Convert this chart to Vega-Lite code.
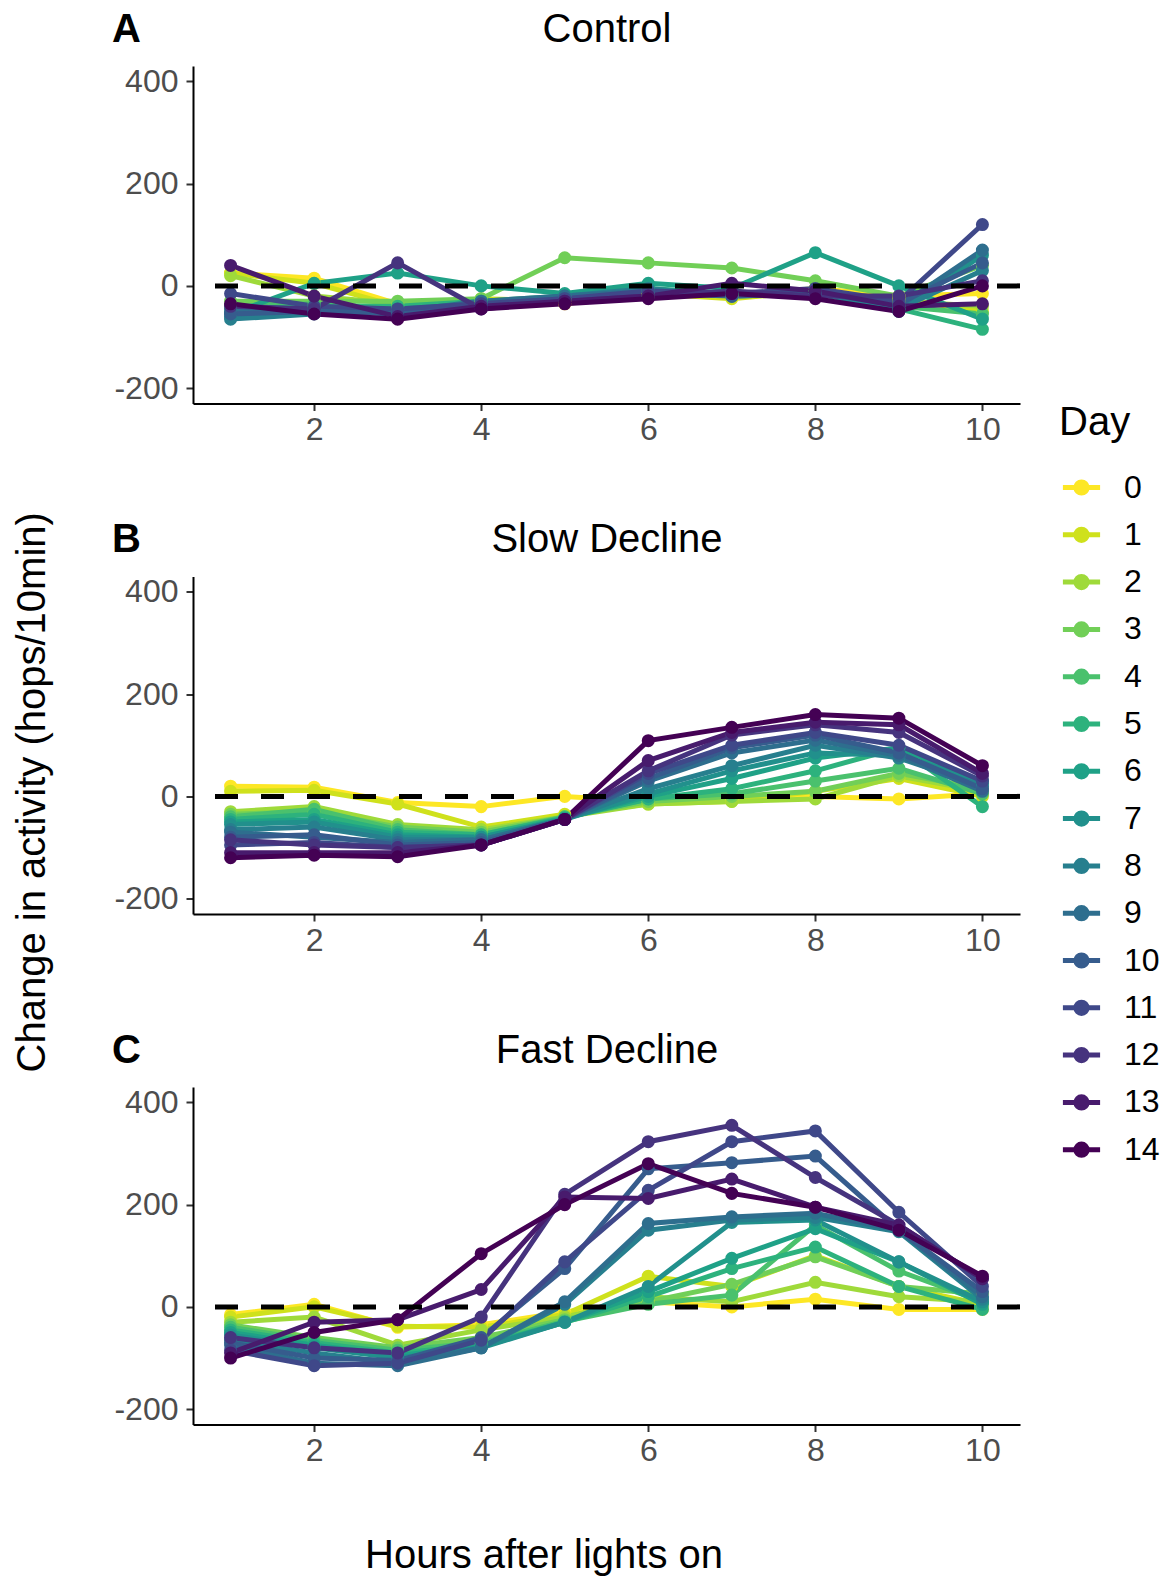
{
"$schema":"https://vega.github.io/schema/vega-lite/v6.json",
"padding":{"left":12,"top":9,"right":5,"bottom":5},
"config":{"view":{"stroke":null},"font":"Liberation Sans",
 "axis":{"grid":false,"domainColor":"black","domainWidth":2,"tickColor":"#333333","tickWidth":2,"tickSize":7,"labelColor":"#4D4D4D","labelFontSize":32,"labelFont":"Liberation Sans","titleFont":"Liberation Sans","titleFontSize":40,"titleColor":"black","titleFontWeight":"normal"},
 "title":{"font":"Liberation Sans","fontSize":40,"fontWeight":"normal","color":"black"}},
"datasets":{"act":[
{"p":"A","d":0,"h":1,"v":25},{"p":"A","d":0,"h":2,"v":15},{"p":"A","d":0,"h":3,"v":-35},{"p":"A","d":0,"h":4,"v":-30},{"p":"A","d":0,"h":5,"v":-35},{"p":"A","d":0,"h":6,"v":-15},{"p":"A","d":0,"h":7,"v":-20},{"p":"A","d":0,"h":8,"v":-5},{"p":"A","d":0,"h":9,"v":-20},{"p":"A","d":0,"h":10,"v":-15},
{"p":"A","d":1,"h":1,"v":25},{"p":"A","d":1,"h":2,"v":5},{"p":"A","d":1,"h":3,"v":-40},{"p":"A","d":1,"h":4,"v":-25},{"p":"A","d":1,"h":5,"v":-30},{"p":"A","d":1,"h":6,"v":-15},{"p":"A","d":1,"h":7,"v":-25},{"p":"A","d":1,"h":8,"v":-10},{"p":"A","d":1,"h":9,"v":-25},{"p":"A","d":1,"h":10,"v":-50},
{"p":"A","d":2,"h":1,"v":20},{"p":"A","d":2,"h":2,"v":-20},{"p":"A","d":2,"h":3,"v":-35},{"p":"A","d":2,"h":4,"v":-30},{"p":"A","d":2,"h":5,"v":-25},{"p":"A","d":2,"h":6,"v":-20},{"p":"A","d":2,"h":7,"v":-15},{"p":"A","d":2,"h":8,"v":-10},{"p":"A","d":2,"h":9,"v":-30},{"p":"A","d":2,"h":10,"v":-40},
{"p":"A","d":3,"h":1,"v":-30},{"p":"A","d":3,"h":2,"v":-30},{"p":"A","d":3,"h":3,"v":-30},{"p":"A","d":3,"h":4,"v":-25},{"p":"A","d":3,"h":5,"v":55},{"p":"A","d":3,"h":6,"v":45},{"p":"A","d":3,"h":7,"v":35},{"p":"A","d":3,"h":8,"v":10},{"p":"A","d":3,"h":9,"v":-20},{"p":"A","d":3,"h":10,"v":40},
{"p":"A","d":4,"h":1,"v":-40},{"p":"A","d":4,"h":2,"v":-35},{"p":"A","d":4,"h":3,"v":-45},{"p":"A","d":4,"h":4,"v":-30},{"p":"A","d":4,"h":5,"v":-25},{"p":"A","d":4,"h":6,"v":-10},{"p":"A","d":4,"h":7,"v":-20},{"p":"A","d":4,"h":8,"v":-15},{"p":"A","d":4,"h":9,"v":-40},{"p":"A","d":4,"h":10,"v":-55},
{"p":"A","d":5,"h":1,"v":-45},{"p":"A","d":5,"h":2,"v":-40},{"p":"A","d":5,"h":3,"v":-40},{"p":"A","d":5,"h":4,"v":-30},{"p":"A","d":5,"h":5,"v":-20},{"p":"A","d":5,"h":6,"v":-5},{"p":"A","d":5,"h":7,"v":-15},{"p":"A","d":5,"h":8,"v":-10},{"p":"A","d":5,"h":9,"v":-45},{"p":"A","d":5,"h":10,"v":-85},
{"p":"A","d":6,"h":1,"v":-55},{"p":"A","d":6,"h":2,"v":5},{"p":"A","d":6,"h":3,"v":25},{"p":"A","d":6,"h":4,"v":0},{"p":"A","d":6,"h":5,"v":-15},{"p":"A","d":6,"h":6,"v":5},{"p":"A","d":6,"h":7,"v":-5},{"p":"A","d":6,"h":8,"v":65},{"p":"A","d":6,"h":9,"v":0},{"p":"A","d":6,"h":10,"v":-65},
{"p":"A","d":7,"h":1,"v":-60},{"p":"A","d":7,"h":2,"v":-50},{"p":"A","d":7,"h":3,"v":-45},{"p":"A","d":7,"h":4,"v":-35},{"p":"A","d":7,"h":5,"v":-25},{"p":"A","d":7,"h":6,"v":-10},{"p":"A","d":7,"h":7,"v":-15},{"p":"A","d":7,"h":8,"v":-10},{"p":"A","d":7,"h":9,"v":-50},{"p":"A","d":7,"h":10,"v":60},
{"p":"A","d":8,"h":1,"v":-65},{"p":"A","d":8,"h":2,"v":-55},{"p":"A","d":8,"h":3,"v":-50},{"p":"A","d":8,"h":4,"v":-35},{"p":"A","d":8,"h":5,"v":-20},{"p":"A","d":8,"h":6,"v":-5},{"p":"A","d":8,"h":7,"v":-20},{"p":"A","d":8,"h":8,"v":-15},{"p":"A","d":8,"h":9,"v":-45},{"p":"A","d":8,"h":10,"v":30},
{"p":"A","d":9,"h":1,"v":-50},{"p":"A","d":9,"h":2,"v":-45},{"p":"A","d":9,"h":3,"v":-50},{"p":"A","d":9,"h":4,"v":-30},{"p":"A","d":9,"h":5,"v":-20},{"p":"A","d":9,"h":6,"v":-10},{"p":"A","d":9,"h":7,"v":-15},{"p":"A","d":9,"h":8,"v":-10},{"p":"A","d":9,"h":9,"v":-40},{"p":"A","d":9,"h":10,"v":70},
{"p":"A","d":10,"h":1,"v":-55},{"p":"A","d":10,"h":2,"v":-50},{"p":"A","d":10,"h":3,"v":-55},{"p":"A","d":10,"h":4,"v":-35},{"p":"A","d":10,"h":5,"v":-25},{"p":"A","d":10,"h":6,"v":-15},{"p":"A","d":10,"h":7,"v":-20},{"p":"A","d":10,"h":8,"v":-15},{"p":"A","d":10,"h":9,"v":-35},{"p":"A","d":10,"h":10,"v":45},
{"p":"A","d":11,"h":1,"v":-15},{"p":"A","d":11,"h":2,"v":-40},{"p":"A","d":11,"h":3,"v":-45},{"p":"A","d":11,"h":4,"v":-35},{"p":"A","d":11,"h":5,"v":-25},{"p":"A","d":11,"h":6,"v":-10},{"p":"A","d":11,"h":7,"v":-15},{"p":"A","d":11,"h":8,"v":-5},{"p":"A","d":11,"h":9,"v":-30},{"p":"A","d":11,"h":10,"v":120},
{"p":"A","d":12,"h":1,"v":-40},{"p":"A","d":12,"h":2,"v":-45},{"p":"A","d":12,"h":3,"v":45},{"p":"A","d":12,"h":4,"v":-45},{"p":"A","d":12,"h":5,"v":-30},{"p":"A","d":12,"h":6,"v":-20},{"p":"A","d":12,"h":7,"v":-10},{"p":"A","d":12,"h":8,"v":-20},{"p":"A","d":12,"h":9,"v":-20},{"p":"A","d":12,"h":10,"v":10},
{"p":"A","d":13,"h":1,"v":40},{"p":"A","d":13,"h":2,"v":-20},{"p":"A","d":13,"h":3,"v":-60},{"p":"A","d":13,"h":4,"v":-40},{"p":"A","d":13,"h":5,"v":-30},{"p":"A","d":13,"h":6,"v":-20},{"p":"A","d":13,"h":7,"v":5},{"p":"A","d":13,"h":8,"v":-10},{"p":"A","d":13,"h":9,"v":-40},{"p":"A","d":13,"h":10,"v":-35},
{"p":"A","d":14,"h":1,"v":-35},{"p":"A","d":14,"h":2,"v":-55},{"p":"A","d":14,"h":3,"v":-65},{"p":"A","d":14,"h":4,"v":-45},{"p":"A","d":14,"h":5,"v":-35},{"p":"A","d":14,"h":6,"v":-25},{"p":"A","d":14,"h":7,"v":-15},{"p":"A","d":14,"h":8,"v":-25},{"p":"A","d":14,"h":9,"v":-50},{"p":"A","d":14,"h":10,"v":0},
{"p":"B","d":0,"h":1,"v":20},{"p":"B","d":0,"h":2,"v":18},{"p":"B","d":0,"h":3,"v":-12},{"p":"B","d":0,"h":4,"v":-20},{"p":"B","d":0,"h":5,"v":0},{"p":"B","d":0,"h":6,"v":-10},{"p":"B","d":0,"h":7,"v":-5},{"p":"B","d":0,"h":8,"v":0},{"p":"B","d":0,"h":9,"v":-5},{"p":"B","d":0,"h":10,"v":5},
{"p":"B","d":1,"h":1,"v":10},{"p":"B","d":1,"h":2,"v":12},{"p":"B","d":1,"h":3,"v":-15},{"p":"B","d":1,"h":4,"v":-60},{"p":"B","d":1,"h":5,"v":-35},{"p":"B","d":1,"h":6,"v":-15},{"p":"B","d":1,"h":7,"v":-10},{"p":"B","d":1,"h":8,"v":10},{"p":"B","d":1,"h":9,"v":35},{"p":"B","d":1,"h":10,"v":0},
{"p":"B","d":2,"h":1,"v":-30},{"p":"B","d":2,"h":2,"v":-20},{"p":"B","d":2,"h":3,"v":-55},{"p":"B","d":2,"h":4,"v":-65},{"p":"B","d":2,"h":5,"v":-40},{"p":"B","d":2,"h":6,"v":-15},{"p":"B","d":2,"h":7,"v":-10},{"p":"B","d":2,"h":8,"v":-5},{"p":"B","d":2,"h":9,"v":40},{"p":"B","d":2,"h":10,"v":10},
{"p":"B","d":3,"h":1,"v":-35},{"p":"B","d":3,"h":2,"v":-30},{"p":"B","d":3,"h":3,"v":-60},{"p":"B","d":3,"h":4,"v":-70},{"p":"B","d":3,"h":5,"v":-40},{"p":"B","d":3,"h":6,"v":-10},{"p":"B","d":3,"h":7,"v":0},{"p":"B","d":3,"h":8,"v":10},{"p":"B","d":3,"h":9,"v":45},{"p":"B","d":3,"h":10,"v":15},
{"p":"B","d":4,"h":1,"v":-40},{"p":"B","d":4,"h":2,"v":-25},{"p":"B","d":4,"h":3,"v":-65},{"p":"B","d":4,"h":4,"v":-75},{"p":"B","d":4,"h":5,"v":-40},{"p":"B","d":4,"h":6,"v":-5},{"p":"B","d":4,"h":7,"v":5},{"p":"B","d":4,"h":8,"v":30},{"p":"B","d":4,"h":9,"v":55},{"p":"B","d":4,"h":10,"v":5},
{"p":"B","d":5,"h":1,"v":-45},{"p":"B","d":5,"h":2,"v":-35},{"p":"B","d":5,"h":3,"v":-70},{"p":"B","d":5,"h":4,"v":-75},{"p":"B","d":5,"h":5,"v":-42},{"p":"B","d":5,"h":6,"v":-5},{"p":"B","d":5,"h":7,"v":15},{"p":"B","d":5,"h":8,"v":50},{"p":"B","d":5,"h":9,"v":95},{"p":"B","d":5,"h":10,"v":-20},
{"p":"B","d":6,"h":1,"v":-50},{"p":"B","d":6,"h":2,"v":-45},{"p":"B","d":6,"h":3,"v":-75},{"p":"B","d":6,"h":4,"v":-80},{"p":"B","d":6,"h":5,"v":-43},{"p":"B","d":6,"h":6,"v":0},{"p":"B","d":6,"h":7,"v":35},{"p":"B","d":6,"h":8,"v":75},{"p":"B","d":6,"h":9,"v":95},{"p":"B","d":6,"h":10,"v":25},
{"p":"B","d":7,"h":1,"v":-55},{"p":"B","d":7,"h":2,"v":-50},{"p":"B","d":7,"h":3,"v":-80},{"p":"B","d":7,"h":4,"v":-80},{"p":"B","d":7,"h":5,"v":-45},{"p":"B","d":7,"h":6,"v":5},{"p":"B","d":7,"h":7,"v":50},{"p":"B","d":7,"h":8,"v":85},{"p":"B","d":7,"h":9,"v":80},{"p":"B","d":7,"h":10,"v":30},
{"p":"B","d":8,"h":1,"v":-65},{"p":"B","d":8,"h":2,"v":-60},{"p":"B","d":8,"h":3,"v":-85},{"p":"B","d":8,"h":4,"v":-85},{"p":"B","d":8,"h":5,"v":-45},{"p":"B","d":8,"h":6,"v":15},{"p":"B","d":8,"h":7,"v":60},{"p":"B","d":8,"h":8,"v":100},{"p":"B","d":8,"h":9,"v":75},{"p":"B","d":8,"h":10,"v":20},
{"p":"B","d":9,"h":1,"v":-70},{"p":"B","d":9,"h":2,"v":-80},{"p":"B","d":9,"h":3,"v":-90},{"p":"B","d":9,"h":4,"v":-85},{"p":"B","d":9,"h":5,"v":-45},{"p":"B","d":9,"h":6,"v":30},{"p":"B","d":9,"h":7,"v":85},{"p":"B","d":9,"h":8,"v":110},{"p":"B","d":9,"h":9,"v":80},{"p":"B","d":9,"h":10,"v":10},
{"p":"B","d":10,"h":1,"v":-80},{"p":"B","d":10,"h":2,"v":-75},{"p":"B","d":10,"h":3,"v":-95},{"p":"B","d":10,"h":4,"v":-90},{"p":"B","d":10,"h":5,"v":-45},{"p":"B","d":10,"h":6,"v":35},{"p":"B","d":10,"h":7,"v":95},{"p":"B","d":10,"h":8,"v":120},{"p":"B","d":10,"h":9,"v":85},{"p":"B","d":10,"h":10,"v":15},
{"p":"B","d":11,"h":1,"v":-95},{"p":"B","d":11,"h":2,"v":-90},{"p":"B","d":11,"h":3,"v":-100},{"p":"B","d":11,"h":4,"v":-95},{"p":"B","d":11,"h":5,"v":-45},{"p":"B","d":11,"h":6,"v":45},{"p":"B","d":11,"h":7,"v":100},{"p":"B","d":11,"h":8,"v":125},{"p":"B","d":11,"h":9,"v":100},{"p":"B","d":11,"h":10,"v":30},
{"p":"B","d":12,"h":1,"v":-85},{"p":"B","d":12,"h":2,"v":-95},{"p":"B","d":12,"h":3,"v":-100},{"p":"B","d":12,"h":4,"v":-95},{"p":"B","d":12,"h":5,"v":-45},{"p":"B","d":12,"h":6,"v":50},{"p":"B","d":12,"h":7,"v":120},{"p":"B","d":12,"h":8,"v":140},{"p":"B","d":12,"h":9,"v":125},{"p":"B","d":12,"h":10,"v":40},
{"p":"B","d":13,"h":1,"v":-110},{"p":"B","d":13,"h":2,"v":-110},{"p":"B","d":13,"h":3,"v":-110},{"p":"B","d":13,"h":4,"v":-95},{"p":"B","d":13,"h":5,"v":-45},{"p":"B","d":13,"h":6,"v":70},{"p":"B","d":13,"h":7,"v":125},{"p":"B","d":13,"h":8,"v":145},{"p":"B","d":13,"h":9,"v":140},{"p":"B","d":13,"h":10,"v":45},
{"p":"B","d":14,"h":1,"v":-120},{"p":"B","d":14,"h":2,"v":-115},{"p":"B","d":14,"h":3,"v":-118},{"p":"B","d":14,"h":4,"v":-95},{"p":"B","d":14,"h":5,"v":-45},{"p":"B","d":14,"h":6,"v":109},{"p":"B","d":14,"h":7,"v":135},{"p":"B","d":14,"h":8,"v":160},{"p":"B","d":14,"h":9,"v":153},{"p":"B","d":14,"h":10,"v":60},
{"p":"C","d":0,"h":1,"v":-15},{"p":"C","d":0,"h":2,"v":5},{"p":"C","d":0,"h":3,"v":-40},{"p":"C","d":0,"h":4,"v":-35},{"p":"C","d":0,"h":5,"v":-10},{"p":"C","d":0,"h":6,"v":10},{"p":"C","d":0,"h":7,"v":0},{"p":"C","d":0,"h":8,"v":15},{"p":"C","d":0,"h":9,"v":-5},{"p":"C","d":0,"h":10,"v":-5},
{"p":"C","d":1,"h":1,"v":-20},{"p":"C","d":1,"h":2,"v":0},{"p":"C","d":1,"h":3,"v":-38},{"p":"C","d":1,"h":4,"v":-40},{"p":"C","d":1,"h":5,"v":-15},{"p":"C","d":1,"h":6,"v":60},{"p":"C","d":1,"h":7,"v":40},{"p":"C","d":1,"h":8,"v":100},{"p":"C","d":1,"h":9,"v":40},{"p":"C","d":1,"h":10,"v":5},
{"p":"C","d":2,"h":1,"v":-30},{"p":"C","d":2,"h":2,"v":-20},{"p":"C","d":2,"h":3,"v":-75},{"p":"C","d":2,"h":4,"v":-45},{"p":"C","d":2,"h":5,"v":-20},{"p":"C","d":2,"h":6,"v":20},{"p":"C","d":2,"h":7,"v":10},{"p":"C","d":2,"h":8,"v":48},{"p":"C","d":2,"h":9,"v":20},{"p":"C","d":2,"h":10,"v":10},
{"p":"C","d":3,"h":1,"v":-35},{"p":"C","d":3,"h":2,"v":-60},{"p":"C","d":3,"h":3,"v":-80},{"p":"C","d":3,"h":4,"v":-60},{"p":"C","d":3,"h":5,"v":-25},{"p":"C","d":3,"h":6,"v":10},{"p":"C","d":3,"h":7,"v":44},{"p":"C","d":3,"h":8,"v":98},{"p":"C","d":3,"h":9,"v":40},{"p":"C","d":3,"h":10,"v":25},
{"p":"C","d":4,"h":1,"v":-40},{"p":"C","d":4,"h":2,"v":-65},{"p":"C","d":4,"h":3,"v":-85},{"p":"C","d":4,"h":4,"v":-70},{"p":"C","d":4,"h":5,"v":-28},{"p":"C","d":4,"h":6,"v":5},{"p":"C","d":4,"h":7,"v":23},{"p":"C","d":4,"h":8,"v":160},{"p":"C","d":4,"h":9,"v":70},{"p":"C","d":4,"h":10,"v":10},
{"p":"C","d":5,"h":1,"v":-45},{"p":"C","d":5,"h":2,"v":-70},{"p":"C","d":5,"h":3,"v":-90},{"p":"C","d":5,"h":4,"v":-75},{"p":"C","d":5,"h":5,"v":-30},{"p":"C","d":5,"h":6,"v":20},{"p":"C","d":5,"h":7,"v":75},{"p":"C","d":5,"h":8,"v":117},{"p":"C","d":5,"h":9,"v":40},{"p":"C","d":5,"h":10,"v":-5},
{"p":"C","d":6,"h":1,"v":-50},{"p":"C","d":6,"h":2,"v":-75},{"p":"C","d":6,"h":3,"v":-95},{"p":"C","d":6,"h":4,"v":-78},{"p":"C","d":6,"h":5,"v":-30},{"p":"C","d":6,"h":6,"v":30},{"p":"C","d":6,"h":7,"v":95},{"p":"C","d":6,"h":8,"v":153},{"p":"C","d":6,"h":9,"v":88},{"p":"C","d":6,"h":10,"v":5},
{"p":"C","d":7,"h":1,"v":-55},{"p":"C","d":7,"h":2,"v":-80},{"p":"C","d":7,"h":3,"v":-100},{"p":"C","d":7,"h":4,"v":-80},{"p":"C","d":7,"h":5,"v":-30},{"p":"C","d":7,"h":6,"v":40},{"p":"C","d":7,"h":7,"v":165},{"p":"C","d":7,"h":8,"v":170},{"p":"C","d":7,"h":9,"v":88},{"p":"C","d":7,"h":10,"v":10},
{"p":"C","d":8,"h":1,"v":-65},{"p":"C","d":8,"h":2,"v":-90},{"p":"C","d":8,"h":3,"v":-110},{"p":"C","d":8,"h":4,"v":-80},{"p":"C","d":8,"h":5,"v":5},{"p":"C","d":8,"h":6,"v":150},{"p":"C","d":8,"h":7,"v":170},{"p":"C","d":8,"h":8,"v":175},{"p":"C","d":8,"h":9,"v":147},{"p":"C","d":8,"h":10,"v":15},
{"p":"C","d":9,"h":1,"v":-75},{"p":"C","d":9,"h":2,"v":-110},{"p":"C","d":9,"h":3,"v":-115},{"p":"C","d":9,"h":4,"v":-80},{"p":"C","d":9,"h":5,"v":10},{"p":"C","d":9,"h":6,"v":163},{"p":"C","d":9,"h":7,"v":176},{"p":"C","d":9,"h":8,"v":183},{"p":"C","d":9,"h":9,"v":150},{"p":"C","d":9,"h":10,"v":20},
{"p":"C","d":10,"h":1,"v":-70},{"p":"C","d":10,"h":2,"v":-100},{"p":"C","d":10,"h":3,"v":-105},{"p":"C","d":10,"h":4,"v":-60},{"p":"C","d":10,"h":5,"v":75},{"p":"C","d":10,"h":6,"v":270},{"p":"C","d":10,"h":7,"v":282},{"p":"C","d":10,"h":8,"v":295},{"p":"C","d":10,"h":9,"v":150},{"p":"C","d":10,"h":10,"v":30},
{"p":"C","d":11,"h":1,"v":-85},{"p":"C","d":11,"h":2,"v":-115},{"p":"C","d":11,"h":3,"v":-110},{"p":"C","d":11,"h":4,"v":-65},{"p":"C","d":11,"h":5,"v":88},{"p":"C","d":11,"h":6,"v":228},{"p":"C","d":11,"h":7,"v":323},{"p":"C","d":11,"h":8,"v":344},{"p":"C","d":11,"h":9,"v":185},{"p":"C","d":11,"h":10,"v":40},
{"p":"C","d":12,"h":1,"v":-60},{"p":"C","d":12,"h":2,"v":-80},{"p":"C","d":12,"h":3,"v":-90},{"p":"C","d":12,"h":4,"v":-20},{"p":"C","d":12,"h":5,"v":220},{"p":"C","d":12,"h":6,"v":323},{"p":"C","d":12,"h":7,"v":355},{"p":"C","d":12,"h":8,"v":253},{"p":"C","d":12,"h":9,"v":160},{"p":"C","d":12,"h":10,"v":55},
{"p":"C","d":13,"h":1,"v":-90},{"p":"C","d":13,"h":2,"v":-30},{"p":"C","d":13,"h":3,"v":-25},{"p":"C","d":13,"h":4,"v":34},{"p":"C","d":13,"h":5,"v":215},{"p":"C","d":13,"h":6,"v":212},{"p":"C","d":13,"h":7,"v":250},{"p":"C","d":13,"h":8,"v":195},{"p":"C","d":13,"h":9,"v":160},{"p":"C","d":13,"h":10,"v":55},
{"p":"C","d":14,"h":1,"v":-100},{"p":"C","d":14,"h":2,"v":-50},{"p":"C","d":14,"h":3,"v":-25},{"p":"C","d":14,"h":4,"v":104},{"p":"C","d":14,"h":5,"v":200},{"p":"C","d":14,"h":6,"v":280},{"p":"C","d":14,"h":7,"v":222},{"p":"C","d":14,"h":8,"v":195},{"p":"C","d":14,"h":9,"v":150},{"p":"C","d":14,"h":10,"v":60}
]},
"title":{"text":"Change in activity (hops/10min)","orient":"left","anchor":"middle","offset":59,"fontSize":40},
"resolve":{"scale":{"color":"shared"}},
"vconcat":[{
 "title":{"text":"Hours after lights on","orient":"bottom","anchor":"middle","offset":69,"dx":-23,"fontSize":40},
 "bounds":"flush","spacing":172.5,
 "resolve":{"scale":{"color":"shared"}},
 "vconcat":[
  {"width":827,"height":337.5,"data":{"name":"act"},"transform":[{"filter":"datum.p == 'A'"}],
   "layer":[
    {"mark":{"type":"line","strokeWidth":5},
     "encoding":{
      "x":{"field":"h","type":"quantitative","scale":{"domain":[0.55,10.45],"nice":false,"zero":false},"axis":{"values":[2,4,6,8,10],"format":"d","title":"Control","titleAngle":0,"titleX":413.5,"titleY":-374.5,"titleAlign":"center","titleBaseline":"middle","labelPadding":4,"labelFlush":false}},
      "y":{"field":"v","type":"quantitative","scale":{"domain":[-230,430],"nice":false,"zero":false},"axis":{"values":[-200,0,200,400],"labelExpr":"replace(datum.label,'\u2212','-')","title":"A","titleAngle":0,"titleX":-67,"titleY":-37,"titleAlign":"center","titleBaseline":"middle","titleFontWeight":"bold","labelPadding":8}},
      "color":{"field":"d","type":"ordinal","scale":{"domain":[0,1,2,3,4,5,6,7,8,9,10,11,12,13,14],"range":["#FDE725","#CFE11C","#9FDA3A","#71CF57","#4AC16D","#2DB27D","#1FA187","#21908C","#277F8E","#2E6E8E","#365C8D","#3F4889","#46337E","#481B6D","#440154"]},
       "legend":{"title":"Day","orient":"none","legendX":866,"legendY":337,"titleFontSize":40,"titleFontWeight":"normal","titleColor":"black","titlePadding":22,"labelFontSize":32,"labelColor":"black","labelOffset":20,"symbolType":"M-0.93,0H0.93M-0.28,0A0.28,0.28,0,1,1,0.28,0A0.28,0.28,0,1,1,-0.28,0","symbolSize":1600,"symbolStrokeWidth":5,"rowPadding":8.3,
        "encode":{"symbols":{"update":{"fill":{"scale":"color","field":"value"},"stroke":{"scale":"color","field":"value"},"opacity":{"value":1},"fillOpacity":{"value":1}}}}}}
     }},
    {"mark":{"type":"point","filled":true,"size":170,"opacity":1,"strokeWidth":0},
     "encoding":{
      "x":{"field":"h","type":"quantitative"},
      "y":{"field":"v","type":"quantitative"},
      "color":{"field":"d","type":"ordinal"}
     }},
    {"data":{"values":[{"p":"A","z":0}]},"mark":{"type":"rule","color":"black","strokeWidth":5,"strokeDash":[23,23]},
     "encoding":{"y":{"field":"z","type":"quantitative"}}}
   ]},
  {"width":827,"height":337.5,"data":{"name":"act"},"transform":[{"filter":"datum.p == 'B'"}],
   "layer":[
    {"mark":{"type":"line","strokeWidth":5},
     "encoding":{
      "x":{"field":"h","type":"quantitative","scale":{"domain":[0.55,10.45],"nice":false,"zero":false},"axis":{"values":[2,4,6,8,10],"format":"d","title":"Slow Decline","titleAngle":0,"titleX":413.5,"titleY":-374.5,"titleAlign":"center","titleBaseline":"middle","labelPadding":4,"labelFlush":false}},
      "y":{"field":"v","type":"quantitative","scale":{"domain":[-230,430],"nice":false,"zero":false},"axis":{"values":[-200,0,200,400],"labelExpr":"replace(datum.label,'\u2212','-')","title":"B","titleAngle":0,"titleX":-67,"titleY":-37,"titleAlign":"center","titleBaseline":"middle","titleFontWeight":"bold","labelPadding":8}},
      "color":{"field":"d","type":"ordinal"}
     }},
    {"mark":{"type":"point","filled":true,"size":170,"opacity":1,"strokeWidth":0},
     "encoding":{
      "x":{"field":"h","type":"quantitative"},
      "y":{"field":"v","type":"quantitative"},
      "color":{"field":"d","type":"ordinal"}
     }},
    {"data":{"values":[{"p":"B","z":0}]},"mark":{"type":"rule","color":"black","strokeWidth":5,"strokeDash":[23,23]},
     "encoding":{"y":{"field":"z","type":"quantitative"}}}
   ]},
  {"width":827,"height":337.5,"data":{"name":"act"},"transform":[{"filter":"datum.p == 'C'"}],
   "layer":[
    {"mark":{"type":"line","strokeWidth":5},
     "encoding":{
      "x":{"field":"h","type":"quantitative","scale":{"domain":[0.55,10.45],"nice":false,"zero":false},"axis":{"values":[2,4,6,8,10],"format":"d","title":"Fast Decline","titleAngle":0,"titleX":413.5,"titleY":-374.5,"titleAlign":"center","titleBaseline":"middle","labelPadding":4,"labelFlush":false}},
      "y":{"field":"v","type":"quantitative","scale":{"domain":[-230,430],"nice":false,"zero":false},"axis":{"values":[-200,0,200,400],"labelExpr":"replace(datum.label,'\u2212','-')","title":"C","titleAngle":0,"titleX":-67,"titleY":-37,"titleAlign":"center","titleBaseline":"middle","titleFontWeight":"bold","labelPadding":8}},
      "color":{"field":"d","type":"ordinal"}
     }},
    {"mark":{"type":"point","filled":true,"size":170,"opacity":1,"strokeWidth":0},
     "encoding":{
      "x":{"field":"h","type":"quantitative"},
      "y":{"field":"v","type":"quantitative"},
      "color":{"field":"d","type":"ordinal"}
     }},
    {"data":{"values":[{"p":"C","z":0}]},"mark":{"type":"rule","color":"black","strokeWidth":5,"strokeDash":[23,23]},
     "encoding":{"y":{"field":"z","type":"quantitative"}}}
   ]}
 ]
}]
}
